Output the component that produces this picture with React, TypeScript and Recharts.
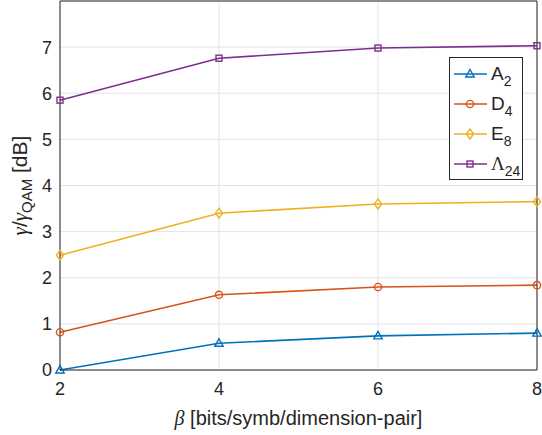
import React from "react"
import { LineChart, Line, XAxis, YAxis, CartesianGrid, Legend } from "recharts"

// beta [bits/symb/dimension-pair]
const betas = [2, 4, 6, 8]
// gain over QAM [dB]
const a2 = [0.0, 0.58, 0.74, 0.8]
const d4 = [0.82, 1.63, 1.8, 1.84]
const e8 = [2.49, 3.4, 3.6, 3.65]
const l24 = [5.85, 6.76, 6.98, 7.03]

const xTicks = [2, 4, 6, 8]
const yTicks = [0, 1, 2, 3, 4, 5, 6, 7]

const AX = "#262626"
const GRID = "#e3e3e3"
const SANS = "'Liberation Sans', Arial, sans-serif"
const SERIF = "'Liberation Serif', 'Times New Roman', serif"

const series = [
  { key: "a2", name: "A", sub: "2", color: "#0072BD", shape: "triangle", values: a2 },
  { key: "d4", name: "D", sub: "4", color: "#D95319", shape: "circle", values: d4 },
  { key: "e8", name: "E", sub: "8", color: "#EDB120", shape: "diamond", values: e8 },
  { key: "l24", name: "Λ", sub: "24", color: "#7E2F8E", shape: "square", values: l24 },
]

const data = betas.map((b, i) => {
  const row: Record<string, number> = { beta: b }
  series.forEach((s) => (row[s.key] = s.values[i]))
  return row
})

function Marker({ shape, cx, cy, color }: { shape: string; cx: number; cy: number; color: string }) {
  const common = { fill: "none", stroke: color, strokeWidth: 1.4 }
  if (shape === "triangle")
    return <polygon points={`${cx},${cy - 4.5} ${cx + 4.2},${cy + 3} ${cx - 4.2},${cy + 3}`} {...common} />
  if (shape === "circle") return <circle cx={cx} cy={cy} r={3.6} {...common} />
  if (shape === "diamond")
    return <polygon points={`${cx},${cy - 5} ${cx + 3.6},${cy} ${cx},${cy + 5} ${cx - 3.6},${cy}`} {...common} />
  return <rect x={cx - 3} y={cy - 3} width={6} height={6} {...common} />
}

const XTitle = (props: any) => {
  const { x, y, width } = props.viewBox
  return (
    <text x={x + width / 2} y={y + 55} textAnchor="middle" fontSize={20} fill={AX} fontFamily={SANS}>
      <tspan fontFamily={SERIF} fontStyle="italic">β</tspan> [bits/symb/dimension-pair]
    </text>
  )
}

const YTitle = (props: any) => {
  const { y, height } = props.viewBox
  const cx = 27
  const cy = y + height / 2
  return (
    <text
      x={cx}
      y={cy}
      transform={`rotate(-90 ${cx} ${cy})`}
      textAnchor="middle"
      fontSize={21}
      fill={AX}
      fontFamily={SANS}
    >
      <tspan fontFamily={SERIF} fontStyle="italic">γ</tspan>/<tspan fontFamily={SERIF} fontStyle="italic">γ</tspan>
      <tspan fontSize={15} dy={5}>QAM</tspan>
      <tspan dy={-5}> [dB]</tspan>
    </text>
  )
}

const LegendBox = () => (
  <div
    style={{
      border: `1px solid ${AX}`,
      background: "#fff",
      width: 74,
      height: 123,
      boxSizing: "border-box",
      padding: "1px 0",
      fontFamily: SANS,
      color: AX,
    }}
  >
    {series.map((s) => (
      <div key={s.key} style={{ height: 30, display: "flex", alignItems: "center" }}>
        <svg width={38} height={30} style={{ marginLeft: 3, flexShrink: 0 }}>
          <line x1={1} y1={15} x2={34} y2={15} stroke={s.color} strokeWidth={1.6} />
          <Marker shape={s.shape} cx={17} cy={15} color={s.color} />
        </svg>
        <span style={{ fontSize: 19, lineHeight: "18px", fontFamily: s.key === "l24" ? SERIF : SANS }}>
          {s.name}
          <span style={{ fontSize: 14, position: "relative", top: 6, fontFamily: SANS }}>{s.sub}</span>
        </span>
      </div>
    ))}
  </div>
)

export default function App() {
  return (
    <div style={{ position: "absolute", left: 0, top: 0, width: 542, height: 435, background: "#fff" }}>
      <LineChart width={542} height={435} data={data} margin={{ top: 1, right: 5, left: 0, bottom: 0 }}>
        <CartesianGrid stroke={GRID} strokeWidth={1} />
        {/* inward tick marks, mirrored axes first so they sit on the plot edge */}
        <XAxis xAxisId="bin" orientation="bottom" type="number" domain={[2, 8]} ticks={xTicks} mirror tick={false} tickSize={5} axisLine={false} tickLine={{ stroke: AX }} />
        <XAxis xAxisId="top" orientation="top" type="number" domain={[2, 8]} ticks={xTicks} mirror tick={false} tickSize={5} axisLine={{ stroke: AX }} tickLine={{ stroke: AX }} />
        <YAxis yAxisId="lin" orientation="left" type="number" domain={[0, 8]} ticks={yTicks} mirror tick={false} tickSize={5} axisLine={false} tickLine={{ stroke: AX }} />
        <YAxis yAxisId="right" orientation="right" type="number" domain={[0, 8]} ticks={yTicks} mirror tick={false} tickSize={5} axisLine={{ stroke: AX }} tickLine={{ stroke: AX }} />
        <XAxis
          dataKey="beta"
          type="number"
          domain={[2, 8]}
          ticks={xTicks}
          height={65}
          tickLine={false}
          tickSize={0}
          tickMargin={12}
          axisLine={{ stroke: AX }}
          tick={{ fontSize: 18, fill: AX, fontFamily: SANS }}
          label={{ content: XTitle }}
        />
        <YAxis
          type="number"
          domain={[0, 8]}
          ticks={yTicks}
          width={60}
          tickLine={false}
          tickSize={0}
          tickMargin={8}
          axisLine={{ stroke: AX }}
          tick={{ fontSize: 18, fill: AX, fontFamily: SANS }}
          label={{ content: YTitle }}
        />
        <Legend
          layout="vertical"
          align="center"
          verticalAlign="middle"
          content={LegendBox}
          wrapperStyle={{ left: 449, top: 57, width: 74 }}
        />
        {series.map((s) => (
          <Line
            key={s.key}
            dataKey={s.key}
            name={s.name + s.sub}
            stroke={s.color}
            strokeWidth={1.6}
            isAnimationActive={false}
            dot={(p: any) => <Marker key={`${s.key}-${p.index}`} shape={s.shape} cx={p.cx} cy={p.cy} color={s.color} />}
            activeDot={false}
          />
        ))}
      </LineChart>
    </div>
  )
}
